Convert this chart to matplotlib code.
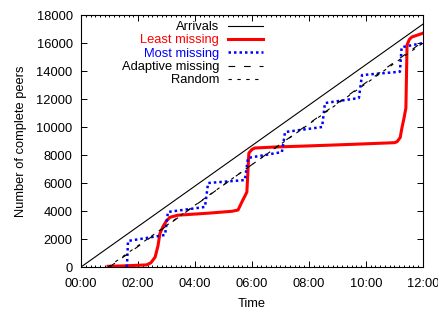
import matplotlib
matplotlib.use("Agg")
import matplotlib.pyplot as plt
from matplotlib.ticker import MultipleLocator, FuncFormatter

plt.rcParams['font.family'] = ['Liberation Sans', 'DejaVu Sans']
plt.rcParams['font.size'] = 9.3

# time in hours, counts of complete peers
arr_t = [0, 12]
arr_y = [0, 17350]

least_t = [0.95, 1.5, 2.3, 2.45, 2.6, 2.7, 2.77, 2.88, 3.0, 3.12, 3.4, 4.5, 5.3, 5.51,
           5.68, 5.76, 5.82, 5.89, 6.0, 6.1, 6.8, 8.0, 9.5, 11.0, 11.09, 11.2, 11.26,
           11.33, 11.40, 11.44, 11.52, 11.61, 12.0]
least_y = [50, 80, 150, 300, 700, 1500, 2400, 2900, 3300, 3550, 3700, 3850, 3980, 4070,
           4790, 5100, 5360, 8140, 8400, 8500, 8570, 8650, 8760, 8880, 8950, 9250, 9930,
           10600, 11360, 15860, 16250, 16430, 16700]

most_t = [1.61, 1.65, 2.95, 3.05, 4.35, 4.46, 5.75, 5.86, 7.05, 7.16, 8.46, 8.56,
          9.75, 9.86, 11.09, 11.19, 11.25, 12.0]
most_y = [0, 1860, 2290, 3930, 4290, 6000, 6210, 7790, 8210, 9640, 10000, 11710,
          12070, 13710, 13930, 13950, 15700, 16000]

adapt_t = [1.0, 12.0]
adapt_y = [0, 16100]

rand_t = [0.95, 12.0]
rand_y = [0, 16000]

fig = plt.figure(figsize=(4.39, 3.09), dpi=100)
ax = fig.add_axes([81 / 439, 1 - 267 / 309, 342 / 439, 252 / 309])

ax.plot(arr_t, arr_y, color='black', lw=0.8, label='Arrivals')
ax.plot(least_t, least_y, color='red', lw=2.2, label='Least missing')
ax.plot(most_t, most_y, color='blue', lw=1.8, linestyle=(0, (1, 1.2)), label='Most missing')
ax.plot(adapt_t, adapt_y, color='black', lw=0.8, linestyle=(0, (6, 8)), label='Adaptive missing')
ax.plot(rand_t, rand_y, color='black', lw=0.8, linestyle=(0, (3, 5)), label='Random')

ax.set_xlim(0, 12)
ax.set_ylim(0, 18000)
ax.xaxis.set_major_locator(MultipleLocator(2))
ax.xaxis.set_minor_locator(MultipleLocator(1 / 6))
ax.xaxis.set_major_formatter(FuncFormatter(lambda v, p: "%02d:00" % int(round(v))))
ax.yaxis.set_major_locator(MultipleLocator(2000))
ax.tick_params(which='both', direction='in', top=True, right=True, width=0.7)
ax.tick_params(which='major', length=4, pad=6)
ax.tick_params(axis='x', which='major', pad=8)
ax.tick_params(which='minor', length=1.6)
for s in ax.spines.values():
    s.set_linewidth(0.8)

ax.set_xlabel('Time', labelpad=6)
ax.set_ylabel('Number of complete peers', labelpad=7)

ax.legend(loc='upper right', bbox_to_anchor=(263 / 439, 1 - 21 / 309),
          bbox_transform=fig.transFigure, frameon=False, markerfirst=False,
          labelcolor='linecolor', handlelength=2.7, handletextpad=0.7,
          borderpad=0, borderaxespad=0, labelspacing=0.1)

fig.savefig('out.png', dpi=100)
